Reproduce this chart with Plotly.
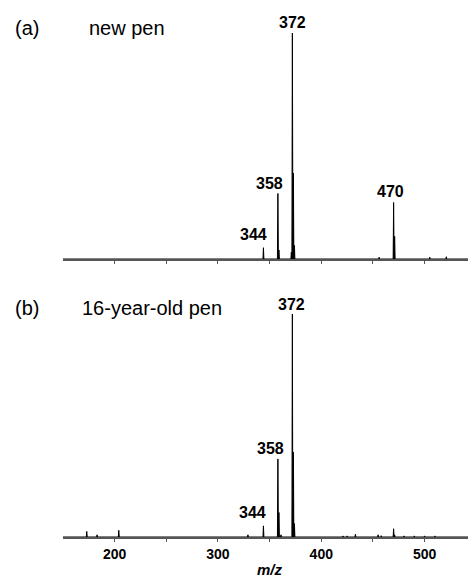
import plotly.graph_objects as go

# ---- data (m/z, relative intensity %) ----
mz_a = [344, 358, 359, 371, 372, 373, 374, 456, 470, 471, 505, 521]
int_a = [5, 29, 4, 3, 100, 38, 6, 0.8, 25, 10, 0.8, 1]

mz_b = [173, 183, 204, 329, 344, 358, 359, 361, 372, 373, 374,
        421, 425, 433, 455, 458, 470, 471, 480, 490, 500, 510]
int_b = [2.5, 1, 3, 1, 5, 35, 11, 1, 100, 38, 6,
         0.5, 0.5, 1.2, 1, 0.6, 3.7, 1, 0.5, 0.5, 0.5, 0.5]

labels_a = [344, 358, 372, 470]
labels_b = [344, 358, 372]

tick_vals = [200, 250, 300, 350, 400, 450, 500]
tick_text = ["200", "", "300", "", "400", "", "500"]

X_RANGE = [150, 542]
HALF_W = 0.45
FONT = "Liberation Sans, Arial, sans-serif"


def stick_profile(mz, inten):
    xs, ys = [X_RANGE[0]], [0]
    for m, h in sorted(zip(mz, inten)):
        xs += [m - HALF_W, m, m + HALF_W]
        ys += [0, h, 0]
    xs.append(X_RANGE[1])
    ys.append(0)
    return xs, ys


fig = go.Figure()
xa, ya = stick_profile(mz_a, int_a)
xb, yb = stick_profile(mz_b, int_b)
fig.add_trace(go.Scatter(x=xa, y=ya, mode="lines", line=dict(color="black", width=1),
                         fill="tozeroy", fillcolor="black", xaxis="x", yaxis="y",
                         hoverinfo="skip", showlegend=False))
fig.add_trace(go.Scatter(x=xb, y=yb, mode="lines", line=dict(color="black", width=1),
                         fill="tozeroy", fillcolor="black", xaxis="x2", yaxis="y2",
                         hoverinfo="skip", showlegend=False))

annotations = []
offsets = {344: (-10, 13), 358: (-8, 10), 372: (0, 10), 470: (-3, 11)}
offsets_b = {344: (-11, 13), 358: (-7, 10), 372: (-1, 10)}
for m in labels_a:
    h = int_a[mz_a.index(m)]
    dx, dy = offsets[m]
    annotations.append(dict(x=m, y=h, xref="x", yref="y", text=f"<b>{m}</b>",
                            showarrow=False, xanchor="center", yanchor="middle",
                            xshift=dx, yshift=dy,
                            font=dict(family=FONT, size=16, color="black")))
for m in labels_b:
    h = int_b[mz_b.index(m)]
    dx, dy = offsets_b[m]
    annotations.append(dict(x=m, y=h, xref="x2", yref="y2", text=f"<b>{m}</b>",
                            showarrow=False, xanchor="center", yanchor="middle",
                            xshift=dx, yshift=dy,
                            font=dict(family=FONT, size=16, color="black")))

W, H, L = 468, 577, 63
PW = W - L


def px_x(p):
    return (p - L) / PW


def px_y(p):
    return 1 - p / H


for txt, x, y in [("(a)", 13, 27.5), ("new pen", 87, 27.5),
                  ("(b)", 13, 307.5), ("16-year-old pen", 80, 307.5)]:
    annotations.append(dict(x=px_x(x), y=px_y(y), xref="paper", yref="paper",
                            text=txt, showarrow=False, xanchor="left", yanchor="middle",
                            font=dict(family=FONT, size=20, color="black")))

annotations.append(dict(x=px_x(270), y=px_y(569), xref="paper", yref="paper",
                        text="<b><i>m/z</i></b>", showarrow=False,
                        xanchor="center", yanchor="middle",
                        font=dict(family=FONT, size=15, color="black")))

axis_common = dict(range=X_RANGE, domain=[0, 1], showline=True, linecolor="#555",
                   linewidth=1.5, ticks="outside", ticklen=3, tickcolor="#555",
                   tickwidth=1, tickvals=tick_vals, ticktext=tick_text,
                   showgrid=False, zeroline=False,
                   tickfont=dict(family=FONT, size=14, color="black", weight="bold"))

fig.update_layout(
    width=W, height=H,
    margin=dict(l=L, r=0, t=0, b=0),
    paper_bgcolor="white", plot_bgcolor="white",
    xaxis=dict(anchor="y", showticklabels=False, **axis_common),
    xaxis2=dict(anchor="y2", showticklabels=True, **axis_common),
    yaxis=dict(domain=[1 - 259 / H, 1 - 21.7 / H], range=[0, 105], visible=False),
    yaxis2=dict(domain=[1 - 537 / H, 1 - 302.85 / H], range=[0, 105], visible=False),
    annotations=annotations,
)

fig.write_html("out.html")
